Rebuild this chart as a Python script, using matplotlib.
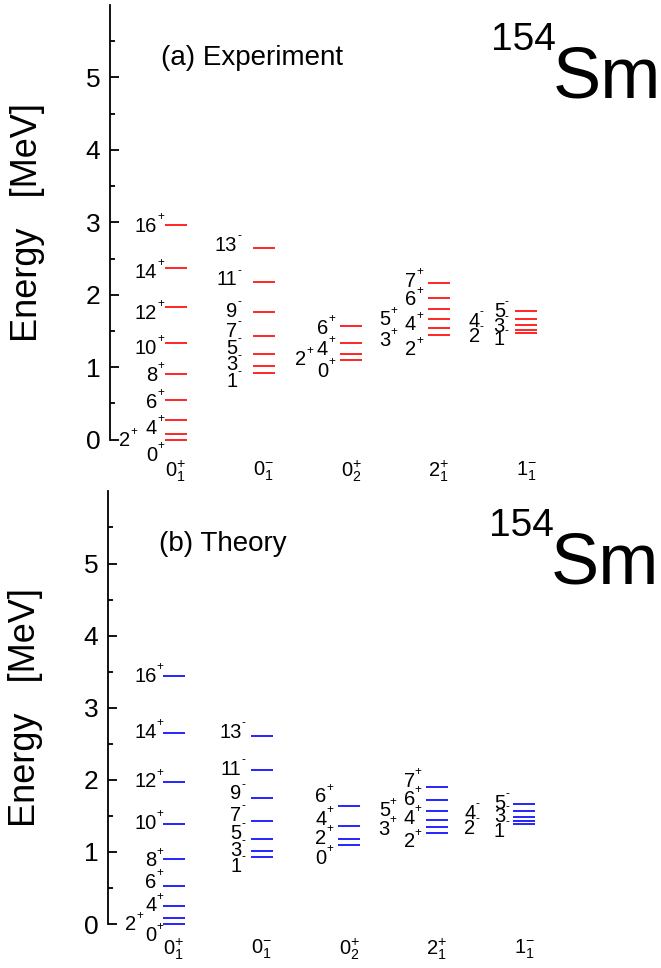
import numpy as np
import matplotlib.pyplot as plt
from matplotlib.transforms import offset_copy

plt.rcParams['font.family'] = ['Liberation Sans', 'DejaVu Sans']
plt.rcParams['mathtext.fontset'] = 'custom'
plt.rcParams['mathtext.rm'] = 'Liberation Sans'
plt.rcParams['mathtext.it'] = 'Liberation Sans'
plt.rcParams['mathtext.default'] = 'regular'

# =============================================================================
# Level data (MeV)
# =============================================================================

BAND_NAMES = [r'$0^{+}_{1}$', r'$0^{-}_{1}$', r'$0^{+}_{2}$', r'$2^{+}_{1}$', r'$1^{-}_{1}$']
PARITY = ['+', '-', '+', '+', '-']

SPINS_GS = [0, 2, 4, 6, 8, 10, 12, 14, 16]
SPINS_OCT = [1, 3, 5, 7, 9, 11, 13]
SPINS_BETA = [0, 2, 4, 6]
SPINS_GAMMA = [2, 3, 4, 5, 6, 7]
SPINS_K1 = [1, 2, 3, 4, 5]

EXP_GS = [0.0, 0.082, 0.267, 0.544, 0.903, 1.333, 1.826, 2.372, 2.967]
EXP_OCT = [0.921, 1.013, 1.182, 1.435, 1.760, 2.170, 2.640]
EXP_BETA = [1.099, 1.178, 1.338, 1.576]
EXP_GAMMA = [1.440, 1.540, 1.665, 1.807, 1.950, 2.157]
EXP_K1 = [1.475, 1.515, 1.583, 1.664, 1.775]

TH_GS = [0.0, 0.083, 0.254, 0.531, 0.906, 1.391, 1.969, 2.653, 3.440]
TH_OCT = [0.925, 1.017, 1.183, 1.424, 1.743, 2.140, 2.607]
TH_BETA = [1.100, 1.175, 1.359, 1.641]
TH_GAMMA = [1.266, 1.341, 1.442, 1.567, 1.720, 1.900]
TH_K1 = [1.387, 1.433, 1.488, 1.567, 1.664]

# =============================================================================
# Label layout: spin-label heights and column (0 = next to line, 1 = further left)
# =============================================================================

EXP_LBL_Y = [
    [-0.189, 0.010, 0.180, 0.535, 0.908, 1.282, 1.770, 2.337, 2.968],
    [0.825, 1.056, 1.286, 1.517, 1.793, 2.231, 2.702],
    [0.964, 1.125, 1.272, 1.562],
    [1.264, 1.388, 1.609, 1.678, 1.955, 2.208],
    [1.402, 1.448, 1.586, 1.655, 1.793],
]
EXP_LBL_COL = [
    [0, 1, 0, 0, 0, 0, 0, 0, 0],
    [0, 0, 0, 0, 0, 0, 0],
    [0, 1, 0, 0],
    [0, 1, 0, 1, 0, 0],
    [0, 1, 0, 1, 0],
]
EXP_DX = [-0.217, -0.30, -0.263, -0.257, -0.245]
EXP_DX_SIDE = [-0.525, -0.53, -0.514, -0.548, -0.53]

TH_LBL_Y = [
    [-0.139, 0.010, 0.277, 0.601, 0.902, 1.419, 1.997, 2.681, 3.463],
    [0.818, 1.050, 1.280, 1.535, 1.827, 2.173, 2.681],
    [0.933, 1.211, 1.474, 1.789],
    [1.165, 1.341, 1.488, 1.595, 1.757, 2.007],
    [1.313, 1.350, 1.512, 1.558, 1.696],
]
TH_LBL_COL = [
    [0, 1, 0, 0, 0, 0, 0, 0, 0],
    [0, 0, 0, 0, 0, 0, 0],
    [0, 0, 0, 0],
    [0, 1, 0, 1, 0, 0],
    [0, 1, 0, 1, 0],
]
TH_DX = [-0.20, -0.23, -0.26, -0.25, -0.22]
TH_DX_SIDE = [-0.43, -0.53, -0.53, -0.535, -0.56]

SPINS = [SPINS_GS, SPINS_OCT, SPINS_BETA, SPINS_GAMMA, SPINS_K1]

LINE_HALF = 0.125
NUM_SIZE = 14.5
SUP_SIZE = 8.5


def draw_panel(ax, energies, lbl_y, lbl_col, dx, dx_side, color, title, cat_y):
    fig = ax.figure
    # shift so the digits are centred on the label height
    half_cap = 0.358 * NUM_SIZE
    num_tr = offset_copy(ax.transData, fig=fig, y=-half_cap, units='points')
    sup_tr = offset_copy(ax.transData, fig=fig, y=8.4 - half_cap, units='points')
    for i, (levels, spins) in enumerate(zip(energies, SPINS)):
        xc = i + 1
        ax.hlines(levels, xc - LINE_HALF, xc + LINE_HALF, colors=color,
                  linewidth=1.2, clip_on=False)
        for j, spin in enumerate(spins):
            xa = xc + (dx_side[i] if lbl_col[i][j] else dx[i])
            ax.text(xa, lbl_y[i][j], str(spin), transform=num_tr,
                    ha='right', va='baseline', fontsize=NUM_SIZE, clip_on=False)
            ax.text(xa, lbl_y[i][j], PARITY[i], transform=sup_tr,
                    ha='left', va='baseline', fontsize=SUP_SIZE, clip_on=False)
        ax.text(xc, cat_y, BAND_NAMES[i], ha='center', va='center',
                fontsize=14.5, clip_on=False)

    ax.set_xlim(0.247, 6.537)
    ax.set_ylim(0, 6)
    for side in ('top', 'right', 'bottom'):
        ax.spines[side].set_visible(False)
    ax.spines['left'].set_linewidth(1.3)
    ax.set_xticks([])
    ax.set_yticks(np.arange(0, 6))
    ax.set_yticks(np.arange(0.5, 6, 1.0), minor=True)
    ax.tick_params(axis='y', which='major', direction='in', length=6.5,
                   width=1.3, labelsize=19, pad=7)
    ax.tick_params(axis='y', which='minor', direction='in', length=3.6, width=1.3)

    ax.text(-0.149, 0.5, 'Energy   [MeV]', rotation=90, ha='center', va='center',
            fontsize=26, transform=ax.transAxes)
    ax.text(0.092, 0.863, title, fontsize=20, va='baseline', transform=ax.transAxes)
    ax.text(0.810, 0.897, '154', fontsize=28, ha='right', va='baseline',
            transform=ax.transAxes)
    ax.text(0.803, 0.788, 'Sm', fontsize=52, ha='left', va='baseline',
            transform=ax.transAxes)


fig = plt.figure(figsize=(6.61, 9.68), dpi=100)
ax_exp = fig.add_axes([110 / 661, 1 - 439.7 / 968, 551 / 661, 434.7 / 968])
ax_th = fig.add_axes([108 / 661, 1 - 924 / 968, 551 / 661, 432.6 / 968])

draw_panel(ax_exp, [EXP_GS, EXP_OCT, EXP_BETA, EXP_GAMMA, EXP_K1],
           EXP_LBL_Y, EXP_LBL_COL, EXP_DX, EXP_DX_SIDE, 'red',
           '(a) Experiment', -0.44)
draw_panel(ax_th, [TH_GS, TH_OCT, TH_BETA, TH_GAMMA, TH_K1],
           TH_LBL_Y, TH_LBL_COL, TH_DX, TH_DX_SIDE, 'blue',
           '(b) Theory', -0.35)

fig.savefig('out.png', dpi=100)
